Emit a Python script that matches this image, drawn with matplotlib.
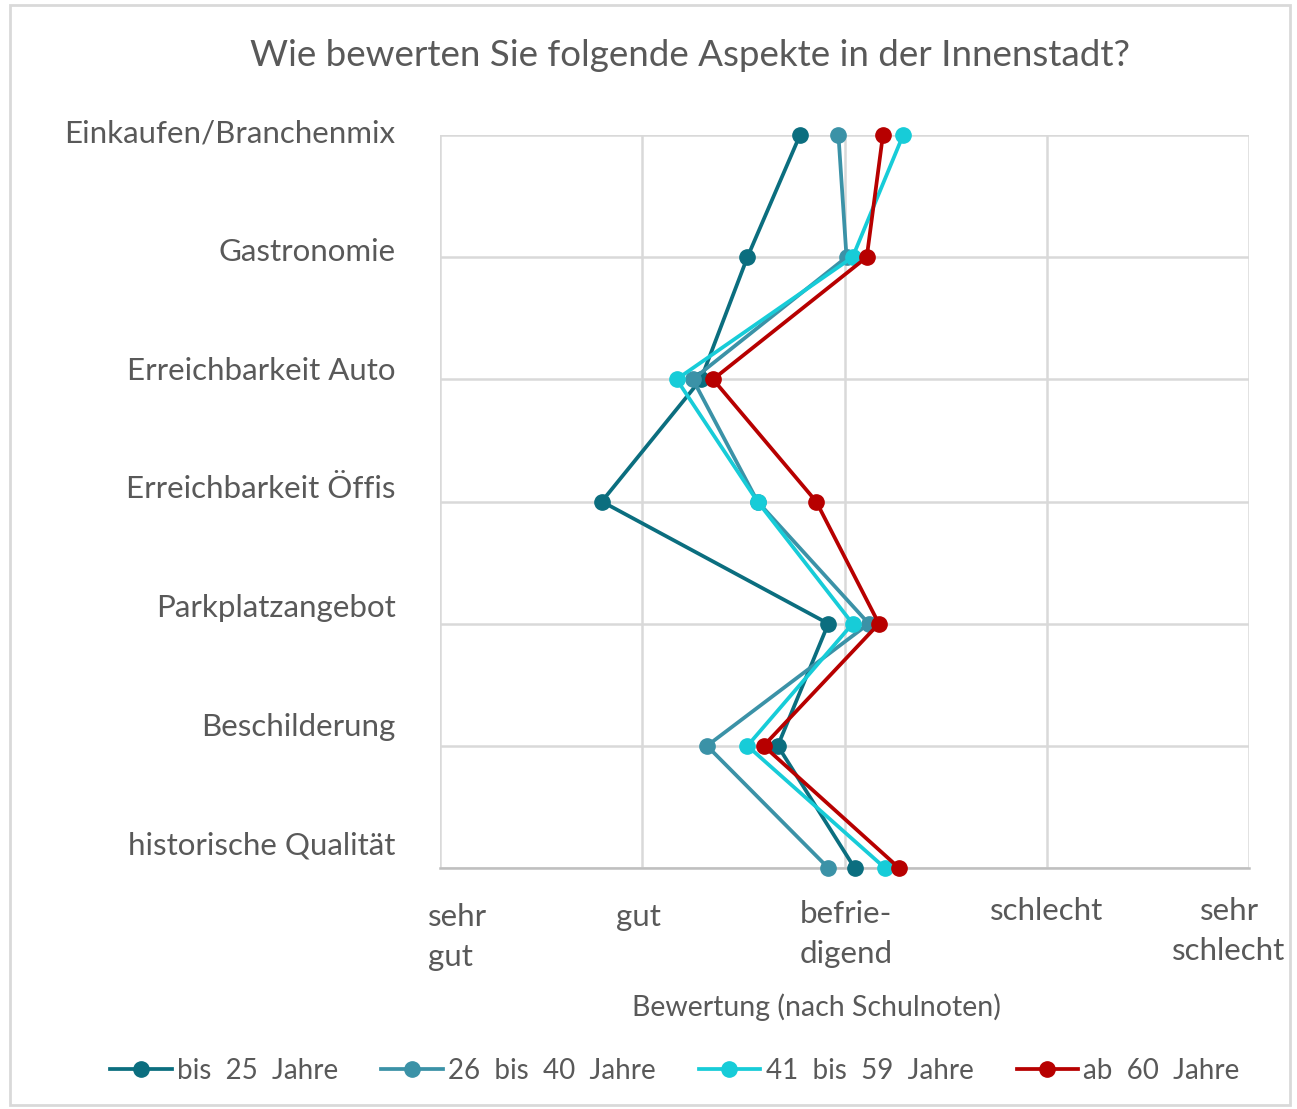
import matplotlib
matplotlib.use("Agg")
import matplotlib.pyplot as plt
import matplotlib.transforms as mtransforms
from matplotlib.patches import Rectangle

plt.rcParams['font.family'] = ['Lato', 'DejaVu Sans']

categories = ["Einkaufen/Branchenmix", "Gastronomie", "Erreichbarkeit Auto",
              "Erreichbarkeit Öffis", "Parkplatzangebot", "Beschilderung",
              "historische Qualität"]
series_names = ["bis  25  Jahre", "26  bis  40  Jahre", "41  bis  59  Jahre", "ab  60  Jahre"]
bis25 = [2.78, 2.52, 2.29, 1.80, 2.92, 2.67, 3.05]
j26_40 = [2.97, 3.01, 2.25, 2.57, 3.12, 2.32, 2.92]
j41_59 = [3.29, 3.04, 2.17, 2.57, 3.04, 2.52, 3.20]
ab60 = [3.19, 3.11, 2.35, 2.86, 3.17, 2.60, 3.27]
x_ticks = [1, 2, 3, 4, 5]
x_ticklabels = ["sehr\ngut", "gut", "befrie-\ndigend", "schlecht", "sehr\nschlecht"]

colors = ["#0b6e7f", "#3b92a7", "#17ccd8", "#b70000"]
text_color = "#595959"

W, H = 1297, 1109
fig = plt.figure(figsize=(W / 100, H / 100), dpi=100)
fig.patch.set_facecolor("white")
fig.add_artist(Rectangle((10 / W, 4 / H), 1280 / W, 1100 / H, transform=fig.transFigure,
                         fill=False, edgecolor="#d9d9d9", linewidth=2))

ax = fig.add_axes([440 / W, 1 - 868 / H, (1249 - 440) / W, (868 - 135) / H])
ypos = list(range(len(categories)))
for vals, name, c in zip([bis25, j26_40, j41_59, ab60], series_names, colors):
    ax.plot(vals, ypos, color=c, linewidth=2.7, marker="o", markersize=11,
            label=name, clip_on=False, zorder=3)

ax.set_xlim(1, 5)
ax.set_ylim(len(categories) - 1, 0)
ax.set_yticks(ypos)
ax.set_yticklabels(categories)
ax.set_xticks(x_ticks)
ax.set_xticklabels(x_ticklabels)
ax.grid(True, color="#d9d9d9", linewidth=1.8)
ax.set_axisbelow(True)
for s in ["top", "left", "right"]:
    ax.spines[s].set_visible(False)
ax.spines["bottom"].set_color("#bfbfbf")
ax.spines["bottom"].set_linewidth(1.8)
ax.tick_params(axis="y", length=0, pad=32, labelsize=22.5, labelcolor=text_color)
ax.tick_params(axis="x", length=0, pad=24, labelsize=22.5, labelcolor=text_color)

for i, lab in enumerate(ax.get_yticklabels()):
    dy = 4 + 3.5 * i
    lab.set_transform(lab.get_transform() + mtransforms.ScaledTranslation(0, dy / 100, fig.dpi_scale_trans))

xl = ax.get_xticklabels()
offsets = [(-12, -2, "left"), (-4, -2, "center"), (-45, 1, "left"), (0, 4, "center"), (-20, 4, "center")]
for lab, (dx, dy, ha) in zip(xl, offsets):
    lab.set_ha(ha)
    lab.set_multialignment(ha if ha == "left" else "center")
    lab.set_linespacing(1.5)
    lab.set_transform(lab.get_transform() + mtransforms.ScaledTranslation(dx / 100, dy / 100, fig.dpi_scale_trans))

fig.text(816 / W, 1 - 1007 / H, "Bewertung (nach Schulnoten)", ha="center", va="center",
         fontsize=20.5, color=text_color)
fig.text(690 / W, 1 - 55 / H, "Wie bewerten Sie folgende Aspekte in der Innenstadt?",
         ha="center", va="center", fontsize=26.5, color=text_color)

leg = fig.legend(loc="center", bbox_to_anchor=(675 / W, 1 - 1071 / H), ncol=4, frameon=False,
                 fontsize=20, handlelength=2.2, handletextpad=0.2, columnspacing=1.55,
                 labelcolor=text_color)

fig.savefig("out.png", dpi=100)
